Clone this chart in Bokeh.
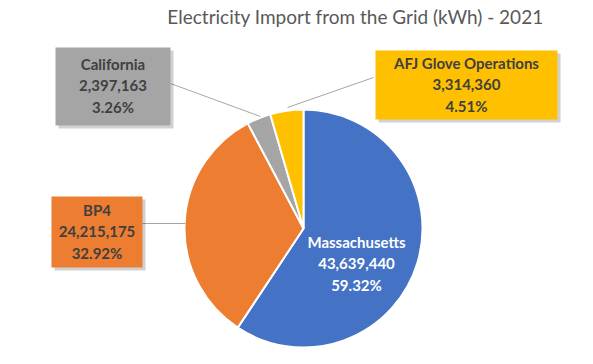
import math
from bokeh.plotting import figure
from bokeh.models import Range1d, ColumnDataSource
from bokeh.core.properties import value
from bokeh.embed import file_html
from bokeh.resources import INLINE

# ---- data ----
categories = ["Massachusetts", "BP4", "California", "AFJ Glove Operations"]
values_kwh = [43639440, 24215175, 2397163, 3314360]
colors = ["#4472C4", "#ED7D31", "#A5A5A5", "#FFC000"]
title_text = "Electricity Import from the Grid (kWh) - 2021"

total = sum(values_kwh)
fracs = [v / total for v in values_kwh]

starts, ends = [], []
cum = 0.0
for f in fracs:
    starts.append(math.pi / 2 - 2 * math.pi * cum)
    cum += f
    ends.append(math.pi / 2 - 2 * math.pi * cum)

# ---- layout (image pixel coords -> data coords) ----
def Y(py):
    return 364 - py

p = figure(width=577, height=348, x_range=Range1d(0, 577), y_range=Range1d(16, 364),
           output_backend="svg", toolbar_location=None, min_border=0)
p.axis.visible = False
p.grid.visible = False
p.outline_line_color = None
p.background_fill_color = "white"
p.border_fill_color = "white"

cx, cy, r = 303, Y(228), 119

src = ColumnDataSource(dict(start=starts, end=ends, color=colors, cat=categories))
p.wedge(x=cx, y=cy, radius=r, start_angle="start", end_angle="end", direction="clock",
        fill_color="color", line_color="white", line_width=2, source=src)

# leader lines
lead = {
    "California": (170, 83, 260, 116),
    "AFJ Glove Operations": (373, 77, 287, 107),
    "BP4": (142, 223, 185, 223),
}
for k, (x0, y0, x1, y1) in lead.items():
    p.segment(x0=[x0], y0=[Y(y0)], x1=[x1], y1=[Y(y1)], line_color="#A6A6A6", line_width=1)

# label boxes (left, top, right, bottom)
boxes = {
    "BP4": (51, 196, 142, 267),
    "California": (55, 47, 170, 125),
    "AFJ Glove Operations": (375, 50, 557, 119),
}
font = value("Lato")
for i, cat in enumerate(categories):
    lines = [cat, f"{values_kwh[i]:,}", f"{fracs[i]*100:.2f}%"]
    if cat in boxes:
        l, t, rr, b = boxes[cat]
        p.quad(left=[l + 3], right=[rr + 3], top=[Y(t + 3)], bottom=[Y(b + 3)],
               fill_color="#000000", fill_alpha=0.18, line_color=None)
        p.quad(left=[l], right=[rr], top=[Y(t)], bottom=[Y(b)],
               fill_color=colors[i], line_color=None)
        tx = (l + rr) / 2
        ty = (t + b) / 2 - 1
        tcol = "#404040"
    else:
        tx, ty = 356, 263
        tcol = "white"
    ys = [Y(ty - 21.5), Y(ty), Y(ty + 21.5)]
    p.text(x=[tx] * 3, y=ys, text=lines, text_align="center", text_baseline="middle",
           text_font=font, text_font_style="bold", text_font_size="15px", text_color=tcol)

# title
p.text(x=[355], y=[Y(16)], text=[title_text], text_align="center", text_baseline="middle",
       text_font=font, text_font_size="19px", text_color="#595959")

open("out.html", "w").write(file_html(p, INLINE))
